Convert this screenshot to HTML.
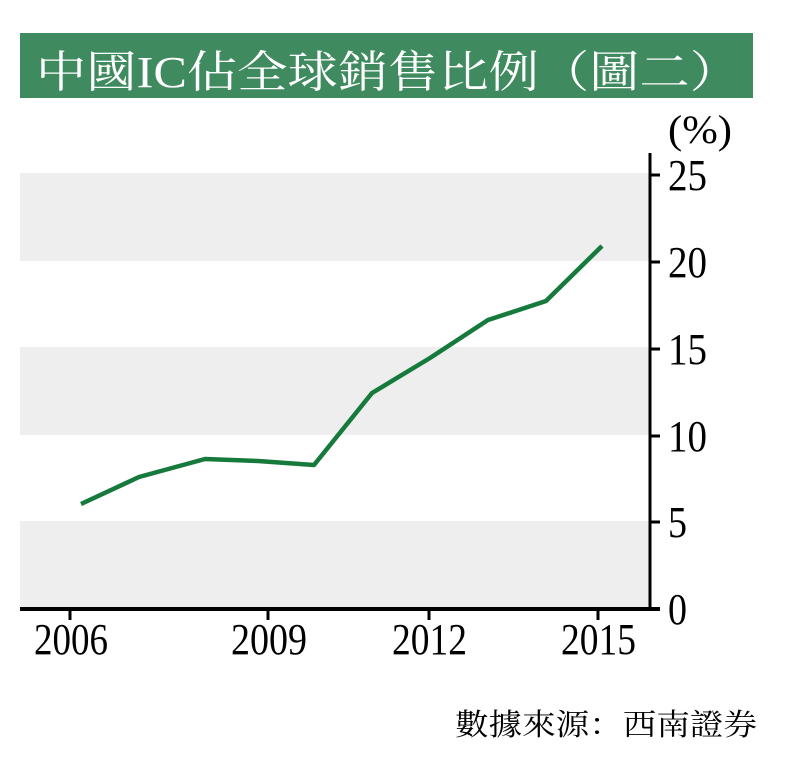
<!DOCTYPE html>
<html><head><meta charset="utf-8"><style>
body{margin:0;background:#fff;width:789px;height:761px;overflow:hidden}
</style></head><body>
<svg width="789" height="761" xmlns="http://www.w3.org/2000/svg">
<rect x="20" y="33" width="733" height="65" fill="#3f8a5f"/>
<text x="36" y="87" font-family="'Liberation Serif','Noto Serif CJK SC',serif" font-size="44" fill="#fff" textLength="704" lengthAdjust="spacingAndGlyphs">中國IC佔全球銷售比例（圖二）</text>
<rect x="20" y="173" width="630" height="88" fill="#eeeeee"/>
<rect x="20" y="347" width="630" height="88" fill="#eeeeee"/>
<rect x="20" y="521" width="630" height="88" fill="#eeeeee"/>
<line x1="650" y1="153" x2="650" y2="611" stroke="#000" stroke-width="3"/>
<line x1="20" y1="609" x2="660" y2="609" stroke="#000" stroke-width="4"/>
<g stroke="#000" stroke-width="3">
<line x1="650" y1="175" x2="660" y2="175"/><line x1="650" y1="262" x2="660" y2="262"/>
<line x1="650" y1="349" x2="660" y2="349"/><line x1="650" y1="436" x2="660" y2="436"/>
<line x1="650" y1="522" x2="660" y2="522"/>
<line x1="70" y1="609" x2="70" y2="620"/><line x1="268" y1="609" x2="268" y2="620"/>
<line x1="429" y1="609" x2="429" y2="620"/><line x1="598" y1="609" x2="598" y2="620"/>
</g>
<g font-family="'Liberation Serif',serif" font-size="44" fill="#000">
<text x="668" y="190" textLength="39" lengthAdjust="spacingAndGlyphs">25</text>
<text x="668" y="277" textLength="39" lengthAdjust="spacingAndGlyphs">20</text>
<text x="668" y="364" textLength="39" lengthAdjust="spacingAndGlyphs">15</text>
<text x="668" y="451" textLength="39" lengthAdjust="spacingAndGlyphs">10</text>
<text x="668" y="537" textLength="19" lengthAdjust="spacingAndGlyphs">5</text>
<text x="668" y="624" textLength="19" lengthAdjust="spacingAndGlyphs">0</text>
<text x="34" y="654" textLength="74" lengthAdjust="spacingAndGlyphs">2006</text>
<text x="231" y="654" textLength="76" lengthAdjust="spacingAndGlyphs">2009</text>
<text x="392" y="654" textLength="75" lengthAdjust="spacingAndGlyphs">2012</text>
<text x="561" y="654" textLength="75" lengthAdjust="spacingAndGlyphs">2015</text>
<text x="668" y="143" font-size="40" textLength="64" lengthAdjust="spacingAndGlyphs">(%)</text>
</g>
<polyline fill="none" stroke="#167a3c" stroke-width="4.5" stroke-linejoin="round" points="81,504 139,477 205,459 258,461 314,465 372,393 430,358 488,320 546,301 602,246"/>
<text x="455" y="735" font-family="'Liberation Serif','Noto Serif CJK SC',serif" font-size="30" fill="#000" textLength="302" lengthAdjust="spacingAndGlyphs">數據來源：西南證券</text>
</svg>
</body></html>
